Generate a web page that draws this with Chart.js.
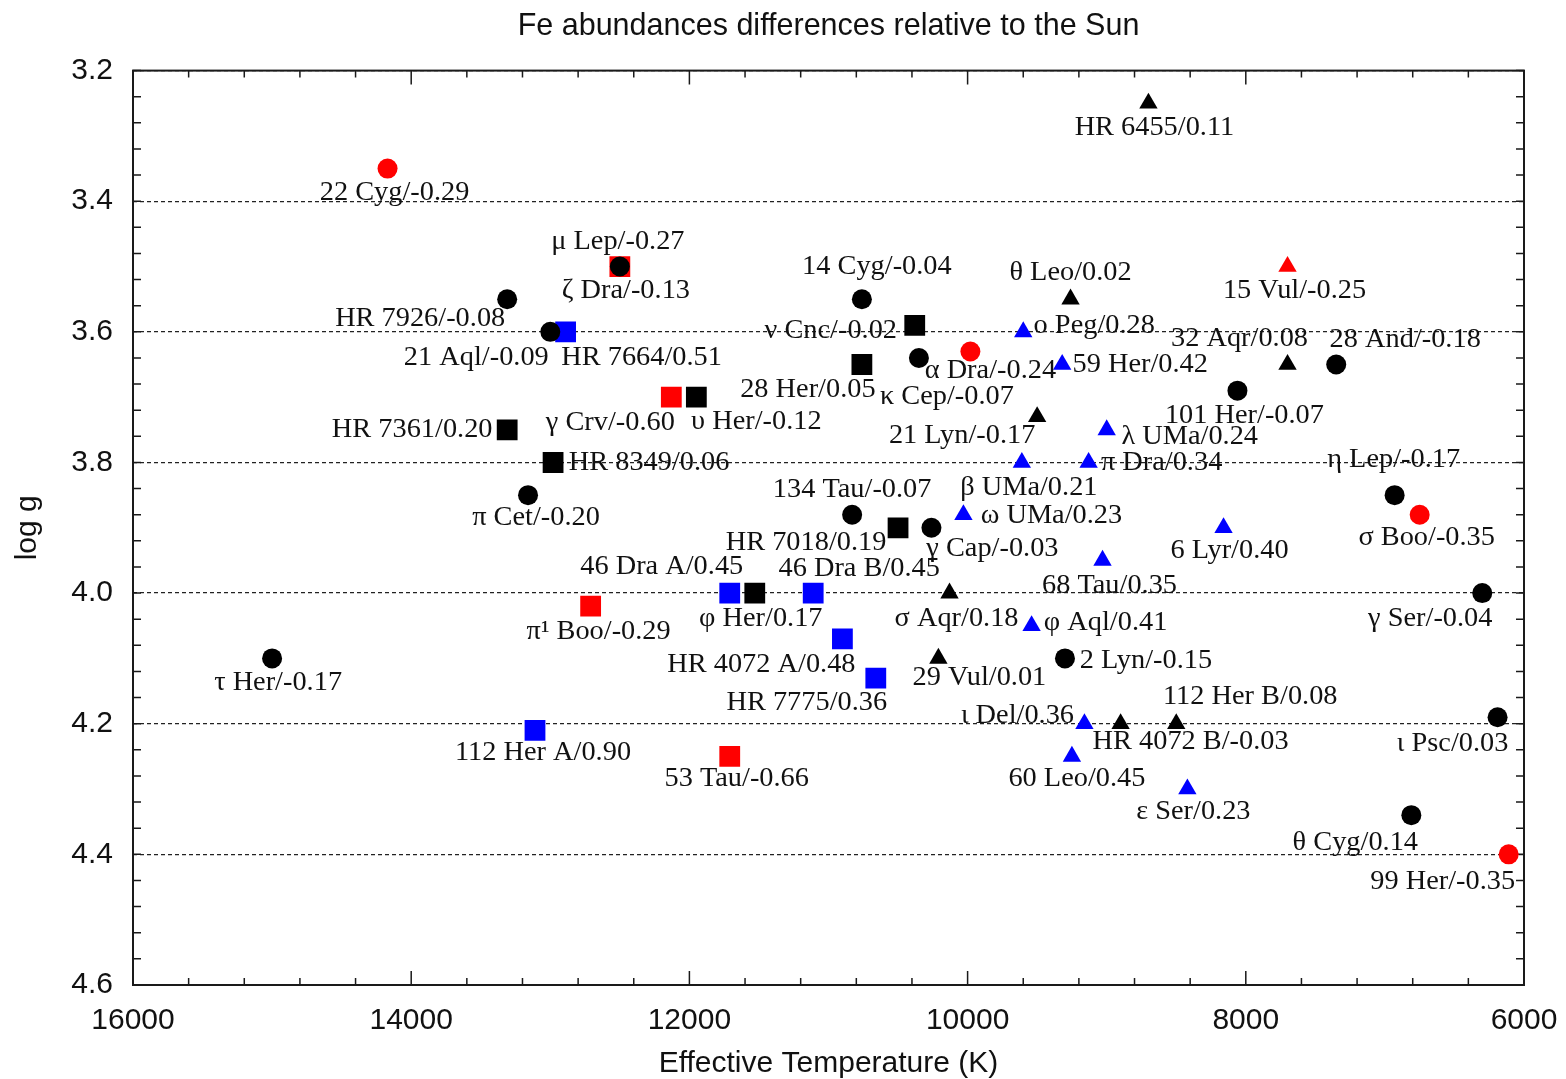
<!DOCTYPE html>
<html>
<head>
<meta charset="utf-8">
<title>Fe abundances</title>
<script src="https://cdn.jsdelivr.net/npm/chart.js@4.4.1/dist/chart.umd.min.js"></script>
<style>
    html, body { margin: 0; padding: 0; background: #fff; }
    #wrap { width: 1566px; height: 1079px; position: relative; }
</style>
</head>
<body>
<div id="wrap"><canvas id="chartFe"></canvas></div>
<script>
// ============================================
// Fe abundances vs Teff / log g
// ============================================

// Normal stars (circles)
const normalNames = ['22 Cyg', 'ζ Dra', 'HR 7926', '21 Aql', '14 Cyg', 'κ Cep', 'α Dra', 'π Cet', 'τ Her', '134 Tau',
                     'γ Cap', '2 Lyn', '28 And', '101 Her', 'η Lep', 'σ Boo', 'γ Ser', 'ι Psc', 'θ Cyg', '99 Her'];
const normalTeff  = [14170, 12500, 13310, 13000, 10760, 10350, 9980, 13160, 15000, 10830,
                     10260, 9300, 7350, 8060, 6930, 6750, 6300, 6190, 6810, 6110];
const normalLogg  = [3.35, 3.50, 3.55, 3.60, 3.55, 3.64, 3.63, 3.85, 4.10, 3.88,
                     3.90, 4.10, 3.65, 3.69, 3.85, 3.88, 4.00, 4.19, 4.34, 4.40];
const normalFe    = [-0.29, -0.13, -0.08, -0.09, -0.04, -0.07, -0.24, -0.20, -0.17, -0.07,
                     -0.03, -0.15, -0.18, -0.07, -0.17, -0.35, -0.04, 0.03, 0.14, -0.35];

// HgMn stars (squares)
const hgmnNames = ['μ Lep', 'HR 7664', 'ν Cnc', '28 Her', 'HR 7361', 'γ Crv', 'υ Her', 'HR 8349', 'π¹ Boo',
                   '46 Dra A', 'φ Her', '46 Dra B', 'HR 4072 A', 'HR 7775', 'HR 7018', '112 Her A', '53 Tau'];
const hgmnTeff  = [12500, 12890, 10380, 10760, 13310, 12130, 11950, 12980, 12710,
                   11710, 11530, 11110, 10900, 10660, 10500, 13110, 11710];
const hgmnLogg  = [3.50, 3.60, 3.59, 3.65, 3.75, 3.70, 3.70, 3.80, 4.02,
                   4.00, 4.00, 4.00, 4.07, 4.13, 3.90, 4.21, 4.25];
const hgmnFe    = [-0.27, 0.51, -0.02, 0.05, 0.20, -0.60, -0.12, 0.06, -0.29,
                   0.45, 0.17, 0.45, 0.48, 0.36, 0.19, 0.90, -0.66];

// Am stars (triangles)
const amNames = ['HR 6455', 'θ Leo', 'ο Peg', '59 Her', '15 Vul', '32 Aqr', '21 Lyn', 'ω UMa', 'β UMa', 'λ UMa', 'π Dra',
                 '68 Tau', 'σ Aqr', 'φ Aql', '29 Vul', '6 Lyr', '112 Her B', 'HR 4072 B', 'ι Del', '60 Leo', 'ε Ser'];
const amTeff  = [8700, 9260, 9600, 9320, 7700, 7700, 9500, 10030, 9610, 9000, 9130,
                 9030, 10130, 9540, 10210, 8160, 8500, 8900, 9160, 9250, 8420];
const amLogg  = [3.25, 3.55, 3.60, 3.65, 3.50, 3.65, 3.73, 3.88, 3.80, 3.75, 3.80,
                 3.95, 4.00, 4.05, 4.10, 3.90, 4.20, 4.20, 4.20, 4.25, 4.30];
const amFe    = [0.11, 0.02, 0.28, 0.42, -0.25, 0.08, -0.17, 0.23, 0.21, 0.24, 0.34,
                 0.35, 0.18, 0.41, 0.01, 0.40, 0.08, -0.03, 0.36, 0.45, 0.23];

// Axis ticks
const teffTicks = [16000, 14000, 12000, 10000, 8000, 6000];
const loggTicks = [3.2, 3.4, 3.6, 3.8, 4.0, 4.2, 4.4, 4.6];

// Where each star label sits relative to its marker (px, text centre)
const labelOffsets = {
    '22 Cyg': [7, 24], 'ζ Dra': [6, 24], 'HR 7926': [-87, 20], '21 Aql': [-74, 26], '14 Cyg': [15, -32],
    'κ Cep': [28, 39], 'α Dra': [20, 19], 'π Cet': [8, 23], 'τ Her': [6, 24], '134 Tau': [0, -25],
    'γ Cap': [61, 21], '2 Lyn': [81, 2], '28 And': [69, -25], '101 Her': [7, 25], 'η Lep': [-1, -35],
    'σ Boo': [7, 23], 'γ Ser': [-52, 26], 'ι Psc': [-45, 27], 'θ Cyg': [-56, 28], '99 Her': [-66, 28],

    'μ Lep': [-2, -25], 'HR 7664': [76, 26], 'ν Cnc': [-84, 6], '28 Her': [-54, 25], 'HR 7361': [-95, 0],
    'γ Crv': [-61, 26], 'υ Her': [60, 25], 'HR 8349': [96, 0], 'π¹ Boo': [8, 26], '46 Dra A': [-68, -26],
    'φ Her': [6, 26], '46 Dra B': [46, -24], 'HR 4072 A': [-81, 26], 'HR 7775': [-69, 25], 'HR 7018': [-92, 15],
    '112 Her A': [8, 23], '53 Tau': [7, 23],

    'HR 6455': [6, 25], 'θ Leo': [0, -26], 'ο Peg': [71, -6], '59 Her': [78, 0], '15 Vul': [7, 24],
    '32 Aqr': [-48, -26], '21 Lyn': [-75, 19], 'ω UMa': [88, 1], 'β UMa': [7, 25], 'λ UMa': [83, 7],
    'π Dra': [73, 0], '68 Tau': [7, 25], 'σ Aqr': [7, 26], 'φ Aql': [74, -3], '29 Vul': [41, 19],
    '6 Lyr': [6, 23], '112 Her B': [74, -27], 'HR 4072 B': [70, 18], 'ι Del': [-67, -8], '60 Leo': [5, 23],
    'ε Ser': [6, 23]
};

// red: underabundant, blue: overabundant, black: near solar
function feColor(fe) {
    if (fe < -0.2) return '#ff0000';
    if (fe > 0.2) return '#0000ff';
    return '#000000';
}

function makeDataset(label, names, teff, logg, fe, style, radius) {
    return {
        label: label,
        starNames: names,
        starFe: fe,
        data: teff.map((t, i) => ({ x: t, y: logg[i] })),
        pointStyle: style,
        pointRadius: radius,
        pointHoverRadius: radius,
        pointBackgroundColor: fe.map(feColor),
        pointBorderWidth: 0,
        showLine: false
    };
}

// Inward ticks on all four sides plus the box
const frameTicks = {
    id: 'frameTicks',
    beforeDatasetsDraw(chart) {
        const { ctx, chartArea: a, scales: { x, y } } = chart;
        ctx.save();
        ctx.strokeStyle = '#1a1a1a';
        ctx.lineWidth = 1.5;
        ctx.beginPath();
        for (let t = 6000; t <= 16000; t += 400) {
            const px = x.getPixelForValue(t);
            const len = (t % 2000 === 0) ? 14 : 7;
            ctx.moveTo(px, a.bottom); ctx.lineTo(px, a.bottom - len);
            ctx.moveTo(px, a.top); ctx.lineTo(px, a.top + len);
        }
        for (let k = 0; k <= 35; k++) {
            const py = y.getPixelForValue(3.2 + k * 0.04);
            ctx.moveTo(a.left, py); ctx.lineTo(a.left + 8, py);
            ctx.moveTo(a.right, py); ctx.lineTo(a.right - 8, py);
        }
        ctx.stroke();
        ctx.lineWidth = 2;
        ctx.strokeRect(a.left, a.top, a.right - a.left, a.bottom - a.top);
        ctx.restore();
    }
};

// "name/[Fe/H]" next to every marker
const starLabels = {
    id: 'starLabels',
    afterDatasetsDraw(chart) {
        const ctx = chart.ctx;
        ctx.save();
        ctx.font = '27px "Liberation Serif", "Times New Roman", serif';
        ctx.fillStyle = '#111';
        ctx.textAlign = 'center';
        ctx.textBaseline = 'middle';
        chart.data.datasets.forEach((ds, di) => {
            const meta = chart.getDatasetMeta(di);
            meta.data.forEach((pt, i) => {
                const name = ds.starNames[i];
                const off = labelOffsets[name] || [0, 24];
                const text = name + '/' + ds.starFe[i].toFixed(2);
                ctx.save();
                ctx.translate(pt.x + off[0], pt.y + off[1]);
                ctx.scale(1.05, 1);
                ctx.fillText(text, 0, 0);
                ctx.restore();
            });
        });
        ctx.restore();
    }
};

Chart.defaults.font.family = '"Liberation Sans", Arial, sans-serif';
Chart.defaults.color = '#111';

const chart = new Chart(document.getElementById('chartFe'), {
    type: 'scatter',
    data: {
        datasets: [
            makeDataset('Normal', normalNames, normalTeff, normalLogg, normalFe, 'circle', 10),
            makeDataset('HgMn', hgmnNames, hgmnTeff, hgmnLogg, hgmnFe, 'rect', 14.7),
            makeDataset('Am', amNames, amTeff, amLogg, amFe, 'triangle', 10.6)
        ]
    },
    options: {
        responsive: true,
        maintainAspectRatio: false,
        animation: false,
        layout: { padding: { top: 0, left: 0, right: 42, bottom: 0 } },
        plugins: {
            legend: { display: false },
            tooltip: { enabled: false },
            title: {
                display: true,
                fullSize: false,
                text: 'Fe abundances differences relative to the Sun',
                font: { size: 30.5, weight: 'normal' },
                color: '#111',
                padding: { top: 8, bottom: 26 }
            }
        },
        scales: {
            x: {
                type: 'linear',
                reverse: true,
                min: 6000,
                max: 16000,
                afterFit: (scale) => {
                    scale.height = 94;
                    scale.paddingLeft = 0;
                    scale.paddingRight = 0;
                },
                afterBuildTicks: (scale) => { scale.ticks = teffTicks.map(v => ({ value: v })); },
                grid: { display: false, drawTicks: false },
                border: { display: false },
                ticks: {
                    font: { size: 30 },
                    padding: 18,
                    maxRotation: 0,
                    callback: (v) => String(v)
                },
                title: {
                    display: true,
                    text: 'Effective Temperature (K)',
                    font: { size: 30 },
                    padding: { top: 0, bottom: -3 }
                }
            },
            y: {
                type: 'linear',
                reverse: true,
                min: 3.2,
                max: 4.6,
                afterFit: (scale) => { scale.width = 133; },
                afterBuildTicks: (scale) => { scale.ticks = loggTicks.map(v => ({ value: v })); },
                grid: { color: '#222', lineWidth: 1.3, drawTicks: false },
                border: { display: false, dash: [4, 3] },
                ticks: {
                    font: { size: 30 },
                    padding: 20,
                    callback: (v) => v.toFixed(1)
                },
                title: {
                    display: true,
                    text: 'log g',
                    font: { size: 30 },
                    padding: { top: 10, bottom: 0 }
                }
            }
        }
    },
    plugins: [frameTicks, starLabels]
});
</script>
</body>
</html>
